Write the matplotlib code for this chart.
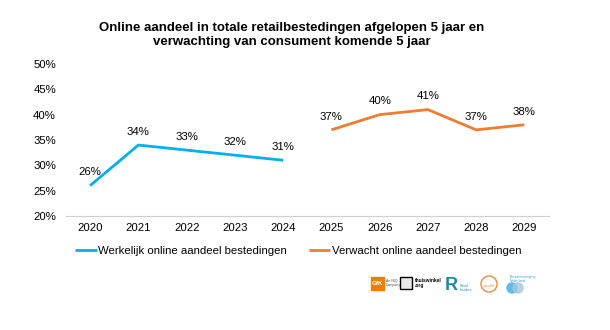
import matplotlib.pyplot as plt
from matplotlib.patches import Rectangle, Circle

plt.rcParams['font.family'] = ['Liberation Sans', 'DejaVu Sans']

years = ['2020', '2021', '2022', '2023', '2024', '2025', '2026', '2027', '2028', '2029']
werkelijk = [26, 34, 33, 32, 31]
verwacht = [37, 40, 41, 37, 38]
yticks = [20, 25, 30, 35, 40, 45, 50]

blue = '#00B0F0'
orange = '#ED7D31'

fig = plt.figure(figsize=(6.1, 3.3), dpi=100)
ax = fig.add_axes([0.1082, 0.3455, 0.791, 0.4606])

x1 = list(range(len(werkelijk)))
x2 = list(range(len(werkelijk), len(years)))
ax.plot(x1, werkelijk, color=blue, lw=2, solid_capstyle='butt',
        label='Werkelijk online aandeel bestedingen')
ax.plot(x2, verwacht, color=orange, lw=2, solid_capstyle='butt',
        label='Verwacht online aandeel bestedingen')

for x, v in zip(x1 + x2, werkelijk + verwacht):
    ax.annotate(f'{v}%', (x, v), xytext=(0, 9.5), textcoords='offset points',
                ha='center', va='center', fontsize=8.2)

ax.set_xlim(-0.5, len(years) - 0.5)
ax.set_ylim(20, 50)
ax.set_xticks(range(len(years)))
ax.set_xticklabels(years, fontsize=8.2)
ax.set_yticks(yticks)
ax.set_yticklabels([f'{t}%' for t in yticks], fontsize=8.2)
ax.tick_params(axis='x', length=0, pad=4.7)
ax.tick_params(axis='y', length=0, pad=7.2)
for s in ['top', 'right', 'left']:
    ax.spines[s].set_visible(False)
ax.spines['bottom'].set_color('#d0d0d0')

leg = ax.legend(loc='center left', bbox_to_anchor=(9 / 482.5, -35 / 152), ncol=2,
                frameon=False, fontsize=8.2, handlelength=1.9, handletextpad=0.15,
                columnspacing=1.9, borderaxespad=0, borderpad=0)

fig.text(292 / 610, 1 - 35 / 330, 'Online aandeel in totale retailbestedingen afgelopen 5 jaar en\n'
         'verwachting van consument komende 5 jaar', ha='center', va='center',
         fontsize=9.5, fontweight='bold', linespacing=1.32)

# small partner logos bottom right
fa = fig.add_axes([0, 0, 1, 1], facecolor='none')
fa.set_xlim(0, 610)
fa.set_ylim(330, 0)
fa.axis('off')
fa.add_patch(Rectangle((371, 277), 13, 13, color='#f07d00'))
fa.text(377.5, 283.5, 'GfK', color='white', fontsize=4.5, ha='center', va='center', fontweight='bold')
fa.text(386, 283, 'An NIQ\nCompany', fontsize=2.5, va='center', color='#555555')
fa.add_patch(Rectangle((400, 277), 12, 12, facecolor='#e8e8e8', edgecolor='black', lw=1))
fa.text(415, 283, 'thuiswinkel\n.org', fontsize=3.5, va='center', fontweight='bold')
fa.text(451, 285, 'R', fontsize=13, color='#1e8ba0', ha='center', va='center', fontweight='bold')
fa.text(460, 288, 'Retail\nInsiders', fontsize=2.5, va='center', color='#1e8ba0')
fa.add_patch(Circle((489, 284), 8, facecolor='white', edgecolor='#f08a3c', lw=1))
fa.text(489, 286, 'postnl', fontsize=3, color='#f08a3c', ha='center', va='center')
fa.add_patch(Circle((512, 288), 5, color='#5bbde8'))
fa.add_patch(Circle((518, 288), 5, color='#a8c8dc', alpha=0.8))
fa.text(510, 279, 'Betaalvereniging\nNederland', fontsize=2.5, va='center', color='#3aa0d8')

fig.savefig('out.png', dpi=100)
